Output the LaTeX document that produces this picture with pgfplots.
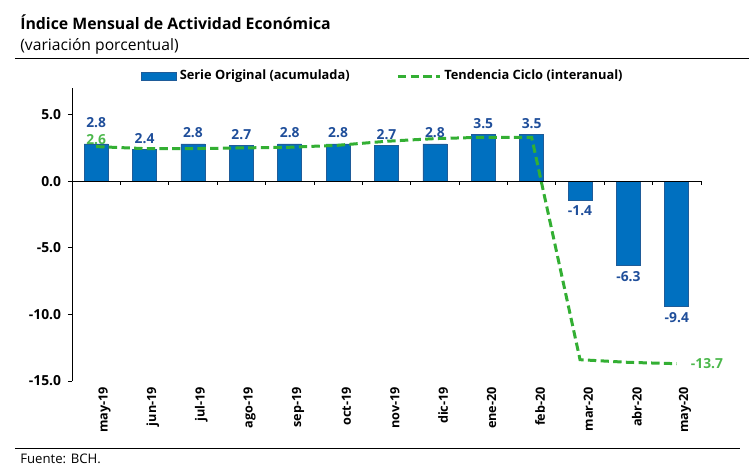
\documentclass[border=0pt]{standalone}
\usepackage{pgfplots}
\pgfplotsset{compat=1.18}
\usepackage{pgfplotstable}
\usepackage{fontspec}
\setmainfont{Open Sans}
\definecolor{barblue}{HTML}{0070C0}
\definecolor{baredge}{HTML}{1F5C99}
\definecolor{lblblue}{HTML}{1F4E9A}
\definecolor{trend}{HTML}{33AF33}
\definecolor{trendlbl}{HTML}{4CB84C}

\pgfplotstableread{
x y dy
0 2.8 6
1 2.4 0
2 2.8 0
3 2.7 0
4 2.8 0
5 2.8 0
6 2.7 0
7 2.8 0
8 3.5 0
9 3.5 0
10 -1.4 0
11 -6.3 0
12 -9.4 0
}\barsdata

\pgfplotstableread{
x y
0 2.6
1 2.45
2 2.45
3 2.5
4 2.55
5 2.7
6 3.0
7 3.2
8 3.3
9 3.3
10 -13.4
11 -13.6
12 -13.7
}\trenddata

\begin{document}
\begin{tikzpicture}
\path[use as bounding box] (-43.2pt,-52.8pt) rectangle (406.8pt,228.6pt);
\begin{axis}[
  at={(0pt,0pt)}, anchor=south west,
  scale only axis,
  width=377.4pt, height=175.8pt,
  xmin=-0.5, xmax=12.5,
  ymin=-15, ymax=7,
  axis x line*=bottom,
  axis y line*=left,
  x axis line style={draw=none},
  xtick={0,...,12},
  xticklabels={may-19,jun-19,jul-19,ago-19,sep-19,oct-19,nov-19,dic-19,ene-20,feb-20,mar-20,abr-20,may-20},
  x tick style={draw=none},
  xticklabel style={rotate=90, anchor=east, font=\bfseries\fontsize{7.6}{8}\selectfont, inner sep=1pt, yshift=-5pt},
  ytick={-15,-10,-5,0,5},
  y tick style={black, line width=0.5pt},
  tick align=outside,
  major tick length=2.4pt,
  yticklabel style={font=\bfseries\fontsize{8.3}{9}\selectfont, inner sep=1pt, xshift=-3pt},
  /pgf/number format/assume math mode=true,
  /pgf/number format/.cd, fixed, fixed zerofill, precision=1,
  /pgfplots/.cd,
  y axis line style={black, line width=0.5pt},
  legend style={at={(0.495,1)}, anchor=center, yshift=7pt, draw=none, fill=none,
    font=\bfseries\fontsize{7.7}{9}\selectfont,
    legend columns=2,
    /tikz/every even column/.append style={column sep=26pt}},
  clip=false,
]
\addplot[ybar, bar width=14.4pt, fill=barblue, draw=baredge, line width=0.4pt,
  visualization depends on={\thisrow{dy} \as \dy},
  nodes near coords,
  nodes near coords style={font=\bfseries\fontsize{8.3}{9}\selectfont, text=lblblue, yshift=\dy pt,
    /pgf/number format/fixed, /pgf/number format/fixed zerofill, /pgf/number format/precision=1},
  legend image code/.code={\fill[barblue, draw=baredge] (0pt,-2.1pt) rectangle (21pt,2.1pt);}
] table[x=x,y=y] {\barsdata};
\addlegendentry{Serie Original (acumulada)}
\addplot[trend, line width=1.8pt, dash pattern=on 5pt off 2.6pt, mark=none,
  legend image code/.code={\draw[trend, line width=1.8pt, dash pattern=on 5pt off 2.6pt] (0pt,0pt) -- (25pt,0pt);}
] table[x=x,y=y] {\trenddata};
\addlegendentry{Tendencia Ciclo (interanual)}
\draw[black, line width=0.5pt] (axis cs:-0.5,0) -- (axis cs:12.5,0);
\pgfplotsinvokeforeach{-0.5,0.5,...,12.5}{
  \draw[black, line width=0.5pt] (axis cs:#1,0) -- ++(0pt,-2.4pt);
}
\node[text=trendlbl, font=\bfseries\fontsize{8.3}{9}\selectfont, anchor=south, inner sep=1pt] at (axis cs:0,2.6) {2.6};
\node[text=trendlbl, font=\bfseries\fontsize{8.3}{9}\selectfont, anchor=west, inner sep=1pt] at (axis cs:12.25,-13.7) {-13.7};
\end{axis}
\node[anchor=west, font=\bfseries\fontsize{9.5}{11}\selectfont, inner sep=0pt] at (-31.2pt,215.4pt) {Índice Mensual de Actividad Económica};
\node[anchor=west, font=\fontsize{9.4}{11}\selectfont, inner sep=0pt] at (-31.2pt,201pt) {(variación porcentual)};
\draw[black, line width=0.6pt] (-34.2pt,193.2pt) -- (406pt,193.2pt);
\draw[black, line width=0.6pt] (-34.2pt,-40.2pt) -- (400.8pt,-40.2pt);
\node[anchor=west, font=\fontsize{7.9}{9}\selectfont, inner sep=0pt] at (-31.2pt,-46.5pt) {Fuente: BCH.};
\end{tikzpicture}
\end{document}
